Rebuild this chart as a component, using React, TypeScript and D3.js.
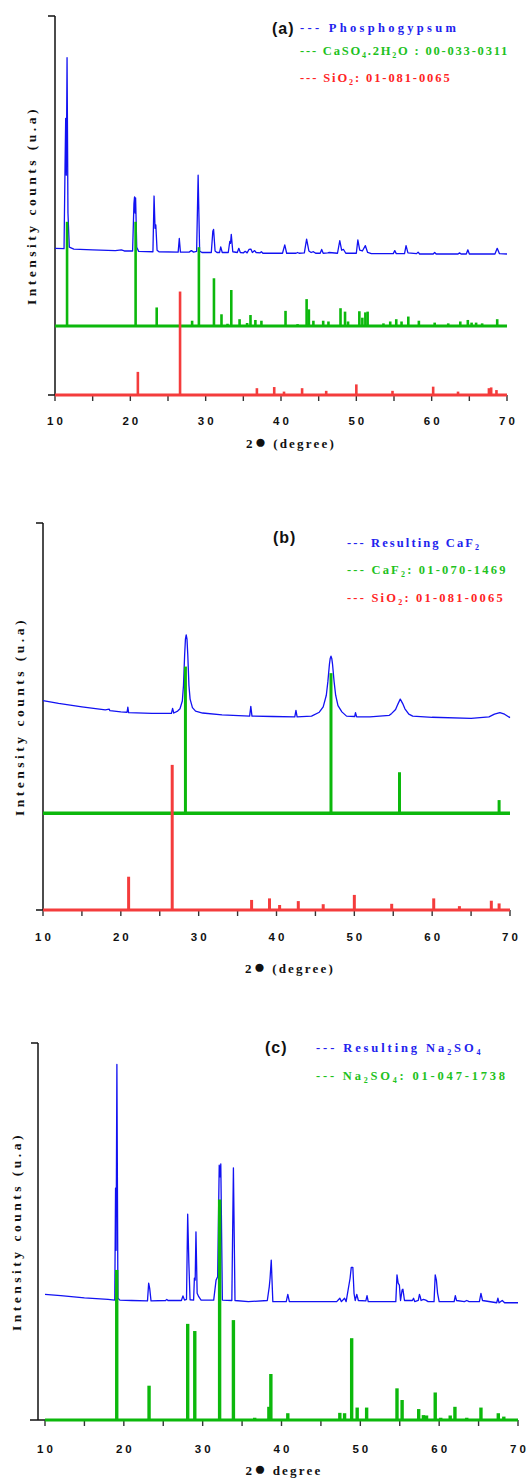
import React from "react";
import * as d3 from "d3";

type Pt = [number, number];
type Row = { color: string; parts: string[] };

const BLUE = "#1212f2";
const GREEN = "#0cb80c";
const RED = "#f43c3c";
const BLUE_T = "#2222ee";
const GREEN_T = "#1ec21e";
const RED_T = "#ff2424";

const xTickValues = [10, 15, 20, 25, 30, 35, 40, 45, 50, 55, 60, 65, 70];
const xTickLabels = [10, 20, 30, 40, 50, 60, 70];
const yLabel = "Intensity counts (u.a)";

// ---------- (a) phosphogypsum ----------
const phosphogypsum: Pt[] = [
  [10, 38.7], [11.2, 38.6], [11.33, 60], [11.42, 73], [11.5, 58], [11.6, 89], [11.72, 48], [11.9, 39.0],
  [12.5, 38.5], [15, 38.3], [18, 38.1], [18.8, 38.3], [19.2, 38.0], [20.3, 38.0], [20.48, 50.5],
  [20.56, 52.3], [20.63, 48], [20.7, 52.0], [20.85, 39], [21.1, 37.9], [23.0, 37.8], [23.15, 52.5],
  [23.28, 44], [23.38, 44.9], [23.55, 38.2], [23.8, 37.8], [26.35, 37.7], [26.5, 41.3], [26.65, 37.7],
  [27.8, 37.7], [28.1, 38.1], [28.4, 37.7], [28.8, 37.9], [29.0, 58.0], [29.2, 38.0], [29.5, 37.6],
  [30.75, 37.6], [30.95, 43.2], [31.05, 43.7], [31.25, 38.0], [31.5, 37.6], [31.85, 37.6], [32.0, 39.1],
  [32.2, 37.6], [33.0, 37.6], [33.2, 40.5], [33.3, 40.0], [33.4, 42.4], [33.6, 37.8], [34.2, 37.6],
  [34.4, 38.7], [34.6, 37.6], [35.0, 37.5], [35.25, 37.9], [35.5, 37.5], [35.75, 38.4], [36.0, 38.5],
  [36.2, 37.6], [36.5, 38.1], [36.7, 37.6], [37.2, 37.5], [37.4, 37.8], [37.6, 37.4], [40.2, 37.4],
  [40.5, 39.6], [40.75, 37.4], [42.0, 37.4], [42.2, 37.6], [42.4, 37.4], [43.1, 37.5], [43.4, 41.1],
  [43.7, 38.0], [44.0, 37.6], [44.3, 37.8], [44.6, 37.4], [45.2, 37.4], [45.4, 38.4], [45.6, 37.4],
  [46.2, 37.5], [46.4, 37.6], [47.5, 37.4], [47.8, 40.7], [48.05, 38.2], [48.3, 38.4], [48.6, 37.4],
  [50.0, 37.4], [50.2, 40.9], [50.45, 38.2], [50.8, 38.0], [51.2, 39.4], [51.5, 37.6], [52, 37.3],
  [54.9, 37.3], [55.1, 38.1], [55.3, 37.3], [56.4, 37.3], [56.6, 39.4], [56.85, 37.5], [58.0, 37.3],
  [58.2, 37.7], [58.4, 37.2], [60.2, 37.2], [60.4, 37.6], [60.6, 37.2], [63.5, 37.2], [63.7, 37.5],
  [63.9, 37.2], [64.6, 37.2], [64.8, 38.3], [65.0, 37.2], [68.4, 37.2], [68.7, 38.7], [69.0, 37.3],
  [70, 37.2],
];
const gypsumBase = 18.2;
const gypsumCard: Pt[] = [
  [11.6, 27.5], [20.7, 27.5], [23.5, 4.9], [28.2, 1.4], [29.1, 20.8], [31.1, 12.6], [32.1, 3.1],
  [32.9, 0.6], [33.4, 9.5], [34.5, 1.8], [35.5, 0.8], [35.95, 2.9], [36.6, 1.6], [37.4, 1.4],
  [40.6, 4.0], [42.2, 0.5], [43.4, 7.1], [43.7, 4.4], [44.3, 1.4], [45.6, 1.4], [46.3, 1.2],
  [47.9, 4.7], [48.5, 3.8], [48.9, 1.2], [50.4, 3.9], [50.8, 2.2], [51.2, 3.6], [51.5, 3.8],
  [53.6, 0.7], [54.5, 1.2], [55.3, 1.8], [56.0, 1.2], [56.9, 2.5], [58.3, 1.4], [60.4, 0.9],
  [62.2, 0.7], [63.8, 1.2], [64.8, 1.6], [65.3, 0.9], [65.9, 0.9], [66.7, 0.7], [68.7, 1.8],
];
const quartzCardA: Pt[] = [
  [21.0, 6.1], [26.6, 27.3], [36.8, 1.8], [39.1, 2.1], [40.4, 0.9], [42.8, 1.8], [46.0, 1.1],
  [50.0, 2.8], [54.8, 1.1], [60.2, 2.2], [63.5, 0.9], [67.6, 1.8], [67.9, 2.0], [68.6, 1.3],
];

// ---------- (b) resulting CaF2 ----------
const caf2Pattern: Pt[] = [
  [10, 54.1], [12, 53.4], [15, 52.5], [18, 51.7], [18.5, 51.9], [18.6, 51.5], [20, 51.2], [20.8, 51.1],
  [20.9, 52.4], [21.0, 51.0], [24, 50.8], [26.5, 50.8], [26.65, 52.1], [26.8, 50.9], [27.3, 51.4],
  [27.6, 52.0], [27.9, 54.0], [28.05, 58], [28.2, 66], [28.3, 70], [28.4, 71.1], [28.5, 70], [28.6, 66],
  [28.75, 58], [28.9, 54.5], [29.2, 52.3], [29.6, 51.4], [30.5, 50.9], [33, 50.4], [36.55, 50.1],
  [36.7, 52.6], [36.85, 50.1], [39.5, 50.0], [42.35, 49.9], [42.5, 51.6], [42.65, 49.9], [44.5, 50.1],
  [45.5, 51.1], [46.0, 52.5], [46.4, 55.5], [46.6, 59], [46.8, 63.5], [46.9, 65], [47.0, 65.6],
  [47.1, 65], [47.2, 63.5], [47.4, 59], [47.6, 55.5], [47.9, 52.8], [48.4, 51.2], [49, 50.1],
  [50.05, 50.0], [50.15, 51.0], [50.3, 49.9], [52, 49.9], [54.5, 50.3], [54.8, 50.8], [55.3, 51.8],
  [55.6, 53.2], [55.9, 54.5], [56.2, 53.4], [56.5, 52.0], [57.0, 50.6], [57.5, 50.1], [60, 49.8],
  [65, 49.5], [67.3, 49.9], [68.0, 50.6], [68.7, 51.0], [69.3, 50.6], [70, 49.7],
];
const fluoriteBase = 25.0;
const fluoriteCard: Pt[] = [[28.3, 37.9], [47.0, 36.2], [55.8, 10.6], [68.6, 3.4]];
const quartzCardB: Pt[] = [
  [21.0, 8.6], [26.6, 37.5], [36.8, 2.6], [39.1, 3.0], [40.4, 1.3], [42.8, 2.3], [46.0, 1.5],
  [50.0, 3.9], [54.8, 1.6], [60.2, 3.0], [63.5, 1.0], [67.6, 2.4], [68.6, 1.7],
];

// ---------- (c) resulting Na2SO4 ----------
const na2so4Pattern: Pt[] = [
  [10, 33.3], [12, 33.0], [15, 32.4], [18, 32.0], [18.85, 31.8], [18.95, 61.5], [19.02, 45], [19.12, 94.3],
  [19.25, 32.3], [19.5, 31.8], [21, 31.7], [23.0, 31.6], [23.15, 36.3], [23.28, 34.9], [23.45, 31.6],
  [25.3, 31.7], [25.45, 32.0], [25.6, 31.7], [27.3, 31.7], [27.5, 32.9], [27.7, 31.8], [27.95, 32.0],
  [28.1, 54.6], [28.25, 41.6], [28.4, 31.9], [28.85, 31.8], [28.95, 37.6], [29.05, 37.1], [29.15, 49.9],
  [29.3, 33.6], [29.5, 32.7], [29.8, 31.8], [31.4, 31.8], [31.7, 37.1], [31.9, 38.0], [32.1, 67.6],
  [32.2, 64.5], [32.3, 67.9], [32.5, 31.8], [33.7, 31.7], [33.9, 66.9], [34.1, 31.7], [35.8, 31.4],
  [38.2, 31.7], [38.45, 35.4], [38.55, 37.6], [38.7, 42.4], [38.9, 31.4], [40.6, 31.4], [40.8, 33.3],
  [41.0, 31.4], [47.0, 31.4], [47.4, 32.3], [47.6, 31.4], [48.0, 32.3], [48.2, 31.4], [48.7, 37.6],
  [48.85, 40.5], [49.05, 40.5], [49.2, 33.6], [49.35, 31.7], [49.55, 33.3], [49.75, 31.7], [50.7, 31.6],
  [50.85, 33.0], [51.0, 31.4], [54.5, 31.4], [54.65, 38.5], [54.8, 36.3], [54.95, 35.8], [55.1, 31.7],
  [55.3, 34.5], [55.4, 34.7], [55.6, 31.7], [56.6, 31.7], [56.75, 32.3], [56.9, 31.4], [57.35, 31.7],
  [57.5, 33.3], [57.6, 32.7], [57.7, 31.7], [58.0, 32.0], [58.3, 31.8], [58.6, 31.4], [59.35, 31.4],
  [59.5, 38.5], [59.65, 37.1], [59.8, 33.6], [60.0, 31.4], [61.9, 31.4], [62.05, 33.0], [62.2, 31.7],
  [63.2, 31.4], [63.5, 31.7], [63.8, 31.4], [65.1, 31.4], [65.3, 33.6], [65.5, 31.7], [67.3, 31.1],
  [67.45, 32.3], [67.6, 31.1], [68.0, 31.7], [68.3, 31.1], [70, 31.1],
];
const thenarditeCard: Pt[] = [
  [19.1, 39.8], [23.2, 9.1], [28.1, 25.5], [29.0, 23.6], [32.15, 58.5], [33.9, 26.5], [36.6, 0.6],
  [38.4, 3.5], [38.65, 12.2], [40.8, 1.8], [47.4, 1.9], [48.0, 1.8], [48.9, 21.7], [49.6, 3.3],
  [50.8, 3.3], [54.65, 8.4], [55.3, 5.3], [57.4, 2.9], [58.0, 1.3], [58.4, 1.2], [59.5, 7.3],
  [60.2, 0.6], [61.4, 1.2], [62.0, 3.5], [63.5, 0.6], [65.3, 3.3], [67.5, 1.8], [68.2, 0.9],
];

// legend rows: even parts normal, odd parts subscript
const legendA: Row[] = [
  { color: BLUE_T, parts: ["--- Phosphogypsum"] },
  { color: GREEN_T, parts: ["--- CaSO", "4", ".2H", "2", "O : 00-033-0311"] },
  { color: RED_T, parts: ["--- SiO", "2", ": 01-081-0065"] },
];
const legendB: Row[] = [
  { color: BLUE_T, parts: ["--- Resulting CaF", "2", ""] },
  { color: GREEN_T, parts: ["--- CaF", "2", ": 01-070-1469"] },
  { color: RED_T, parts: ["--- SiO", "2", ": 01-081-0065"] },
];
const legendC: Row[] = [
  { color: BLUE_T, parts: ["--- Resulting Na", "2", "SO", "4", ""] },
  { color: GREEN_T, parts: ["--- Na", "2", "SO", "4", ": 01-047-1738"] },
];

type Sticks = { data: Pt[]; base: number; color: string; w: number; bw: number };

type PanelProps = {
  xr: [number, number];
  yr: [number, number];
  axisX: number;
  axisLeft: number;
  trace: Pt[];
  sticks: Sticks[];
  tag: string;
  tagX: number;
  tagY: number;
  legend: Row[];
  legendX: number;
  legendY: number[];
  legendLs: number[];
  ylabX: number;
  tickY: number;
  title: string;
  titleX: number;
  titleY: number;
};

const serif = "'Liberation Serif', 'Times New Roman', serif";
const sans = "'Liberation Sans', Arial, sans-serif";

function Panel(p: PanelProps) {
  const x = d3.scaleLinear().domain([10, 70]).range(p.xr);
  const y = d3.scaleLinear().domain([0, 100]).range(p.yr);
  const line = d3.line<Pt>().x((d) => x(d[0])).y((d) => y(d[1]));
  const y0 = y(0);
  const yc = (p.yr[0] + p.yr[1]) / 2;

  return (
    <g>
      {/* axes */}
      <line x1={p.axisX} x2={p.axisX} y1={y(100)} y2={y0} stroke="#111" strokeWidth={1.5} />
      <line x1={p.axisX - 7} x2={p.axisX} y1={y(100)} y2={y(100)} stroke="#111" strokeWidth={1.5} />
      <line x1={p.axisLeft} x2={x(70)} y1={y0} y2={y0} stroke="#111" strokeWidth={1.5} />
      {xTickValues.map((t) => (
        <line key={t} x1={x(t)} x2={x(t)} y1={y0} y2={y0 + 6} stroke="#333" strokeWidth={1.4} />
      ))}
      {xTickLabels.map((t) => (
        <text key={t} x={x(t) + 1.5} y={p.tickY} textAnchor="middle" fontFamily={sans}
          fontWeight="bold" fontSize={11.5} letterSpacing={3} fill="#111">{t}</text>
      ))}
      <text x={p.titleX} y={p.titleY} textAnchor="middle" fontFamily={serif} fontWeight="bold"
        fontSize={13} letterSpacing={2.2} fill="#111">
        2<tspan fontSize={19} letterSpacing={1.5}>●</tspan>{p.title}
      </text>
      <text transform={`translate(${p.ylabX},${yc}) rotate(-90)`} textAnchor="middle" fontFamily={serif}
        fontWeight="bold" fontSize={13.5} letterSpacing={3.5} fill="#111">{yLabel}</text>

      {/* measured pattern */}
      <path d={line(p.trace) ?? ""} fill="none" stroke={BLUE} strokeWidth={1.3} strokeLinejoin="round" />

      {/* reference cards */}
      {p.sticks.map((s, i) => (
        <g key={i}>
          <line x1={x(10)} x2={x(70)} y1={y(s.base)} y2={y(s.base)} stroke={s.color} strokeWidth={s.bw} />
          {s.data.map((d, j) => (
            <line key={j} x1={x(d[0])} x2={x(d[0])} y1={y(s.base)} y2={y(s.base + d[1])}
              stroke={s.color} strokeWidth={s.w} />
          ))}
        </g>
      ))}

      {/* legend */}
      <text x={p.tagX} y={p.tagY} fontFamily={sans} fontWeight="bold" fontSize={16} letterSpacing={1}
        fill="#111">{p.tag}</text>
      {p.legend.map((r, i) => (
        <text key={i} x={p.legendX} y={p.legendY[i]} fontFamily={serif} fontWeight="bold" fontSize={12.5}
          letterSpacing={p.legendLs[i]} fill={r.color}>
          {r.parts.map((s, k) => (
            <tspan key={k} dy={k === 0 ? 0 : k % 2 ? 3 : -3} fontSize={k % 2 ? 8 : 12.5}>{s}</tspan>
          ))}
        </text>
      ))}
    </g>
  );
}

export default function App() {
  return (
    <svg width={532} height={1482} viewBox="0 0 532 1482"
      style={{ position: "absolute", left: 0, top: 0, background: "#fff" }}>
      <Panel
        xr={[55, 507]} yr={[395, 16]} axisX={55} axisLeft={48}
        trace={phosphogypsum}
        sticks={[
          { data: gypsumCard, base: gypsumBase, color: GREEN, w: 2.6, bw: 3.2 },
          { data: quartzCardA, base: 0, color: RED, w: 2.6, bw: 3 },
        ]}
        tag="(a)" tagX={272} tagY={34}
        legend={legendA} legendX={300} legendY={[31.5, 55, 81.5]} legendLs={[3.3, 1.8, 1.9]}
        ylabX={36} tickY={425} title=" (degree)" titleX={291} titleY={448}
      />
      <Panel
        xr={[43, 510]} yr={[910, 523]} axisX={43} axisLeft={36}
        trace={caf2Pattern}
        sticks={[
          { data: fluoriteCard, base: fluoriteBase, color: GREEN, w: 3, bw: 3.4 },
          { data: quartzCardB, base: 0, color: RED, w: 3, bw: 3 },
        ]}
        tag="(b)" tagX={273} tagY={543}
        legend={legendB} legendX={347} legendY={[547, 574, 602]} legendLs={[2.1, 2.2, 2.2]}
        ylabX={24} tickY={941} title=" (degree)" titleX={290} titleY={973}
      />
      <Panel
        xr={[45, 518]} yr={[1420, 1043]} axisX={38} axisLeft={30}
        trace={na2so4Pattern}
        sticks={[{ data: thenarditeCard, base: 0, color: GREEN, w: 3.4, bw: 3 }]}
        tag="(c)" tagX={265} tagY={1053}
        legend={legendC} legendX={316} legendY={[1052, 1080]} legendLs={[2.9, 2.8]}
        ylabX={21} tickY={1453} title=" degree" titleX={284} titleY={1475}
      />
    </svg>
  );
}
